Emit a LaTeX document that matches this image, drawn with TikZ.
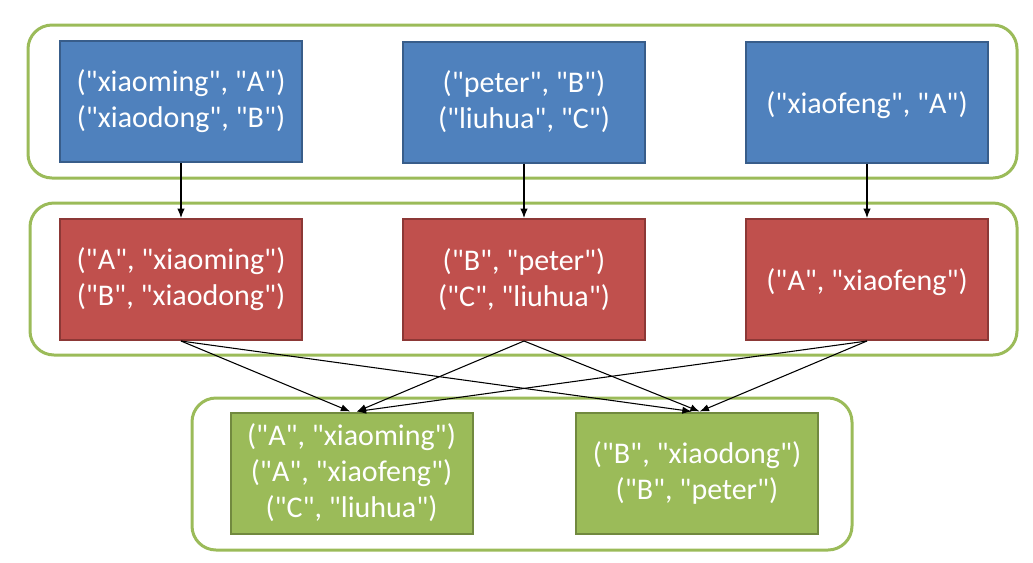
\documentclass[tikz,border=0pt]{standalone}
\usepackage{fontspec}
\setmainfont{Carlito}[Ligatures=TeXOff]
\usetikzlibrary{arrows.meta}
\definecolor{blueFill}{HTML}{4F81BD}
\definecolor{blueLine}{HTML}{385D8A}
\definecolor{redFill}{HTML}{C0504D}
\definecolor{redLine}{HTML}{8C3836}
\definecolor{greenFill}{HTML}{9BBB59}
\definecolor{greenLine}{HTML}{71893F}
\tikzset{
  cell/.style={minimum width=181.5pt, minimum height=90.75pt, line width=1.5pt,
    text=white, align=center, font=\fontsize{22.5}{27}\selectfont,
    execute at begin node={\rule{0pt}{21pt}}},
  inbox/.style={cell, fill=blueFill, draw=blueLine},
  mapbox/.style={cell, fill=redFill, draw=redLine},
  outbox/.style={cell, fill=greenFill, draw=greenLine},
  group/.style={draw=greenFill, line width=2.25pt, rounded corners=18pt},
  link/.style={->, line width=0.8pt}
}
\begin{document}
\begin{tikzpicture}[x=0.75pt,y=-0.75pt,>={Latex[length=7pt,width=5.5pt]}]
\useasboundingbox (0,0) rectangle (1033,562);
\draw[group] (28,25) rectangle (1017,178);
\draw[group] (30,203) rectangle (1017,355);
\draw[group] (192,398) rectangle (852,550);

\node[inbox] (in1) at (181,101.5) {("xiaoming", "A")\\("xiaodong", "B")};
\node[inbox] (in2) at (524,102) {("peter", "B")\\("liuhua", "C")};
\node[inbox] (in3) at (867,102) {("xiaofeng", "A")};

\node[mapbox] (map1) at (181,279.5) {("A", "xiaoming")\\("B", "xiaodong")};
\node[mapbox] (map2) at (524,279.5) {("B", "peter")\\("C", "liuhua")};
\node[mapbox] (map3) at (867,279.5) {("A", "xiaofeng")};

\node[outbox] (out1) at (351.5,473) {("A", "xiaoming")\\("A", "xiaofeng")\\("C", "liuhua")};
\node[outbox] (out2) at (697,473) {("B", "xiaodong")\\("B", "peter")};

\draw[link] (in1) -- (map1);
\draw[link] (in2) -- (map2);
\draw[link] (in3) -- (map3);

\draw[link] (map1.south) -- ([xshift=-1pt]out1.north);
\draw[link] (map2.south) -- ([xshift=4pt]out1.north);
\draw[link] (map3.south) -- ([xshift=4pt]out1.north);
\draw[link] (map1.south) -- ([xshift=-4pt]out2.north);
\draw[link] (map2.south) -- ([xshift=2pt]out2.north);
\draw[link] (map3.south) -- ([xshift=2pt]out2.north);
\end{tikzpicture}
\end{document}
